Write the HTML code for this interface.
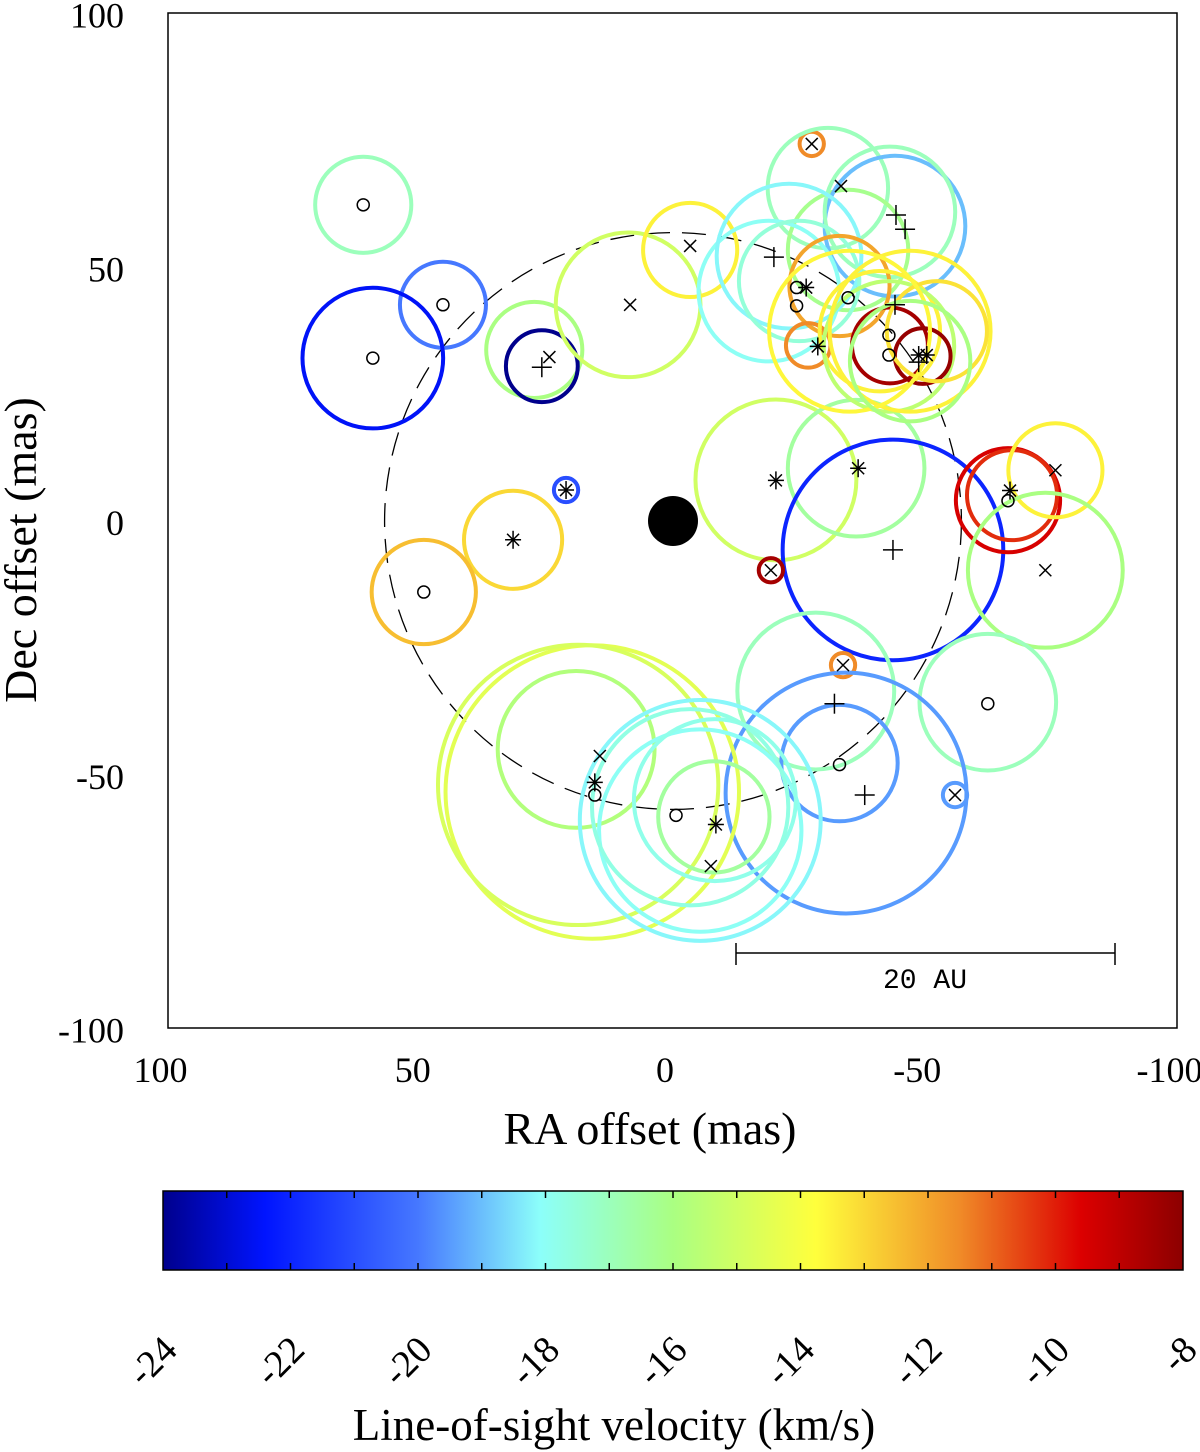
<!DOCTYPE html>
<html><head><meta charset="utf-8"><style>
html,body{margin:0;padding:0;background:#fff;}
svg{display:block;font-family:"Liberation Serif",serif;}
</style></head><body>
<svg id="chart" width="1200" height="1452" viewBox="0 0 1200 1452" xmlns="http://www.w3.org/2000/svg">
<defs>
<linearGradient id="jet" x1="0" x2="1" y1="0" y2="0">
<stop offset="0" stop-color="rgb(0,0,140)"/>
<stop offset="0.1" stop-color="rgb(0,20,255)"/>
<stop offset="0.25" stop-color="rgb(70,120,255)"/>
<stop offset="0.37" stop-color="rgb(140,255,250)"/>
<stop offset="0.5" stop-color="rgb(170,255,130)"/>
<stop offset="0.64" stop-color="rgb(255,255,60)"/>
<stop offset="0.78" stop-color="rgb(240,140,40)"/>
<stop offset="0.9" stop-color="rgb(220,0,0)"/>
<stop offset="1" stop-color="rgb(140,0,0)"/>
</linearGradient>
<clipPath id="pc"><rect x="168" y="13" width="1009" height="1015"/></clipPath>
</defs>
<g id="plot" clip-path="url(#pc)"></g>
<g id="axes"></g>
</svg>
<script>
// circles: ra, dec, radius (mas), velocity
const circRA  = [61.4,45.6,59.5,27.5,26,8.9,-3.4,21.2,31.7,49.4,-20.4,-36.3,-43.6,-19.4,-66.4,-67.2,-75.8,-73.8,-62.4,-28.3,-33.7,-33,-34.3,-55.9,16,18.8,19.2,-5.4,-8.3,-5.4,-8.1,-3.4,-27.5,-30.7,-34.7,-44,-43,-19,-23,-25,-33,-26.8,-41,-42.8,-47,-43,-49.5,-52.3,-35,-47];
const circDec = [62.3,42.6,32.1,33.7,30.5,42.6,53.4,6.1,-3.7,-14,8.1,10.4,-5.7,-9.7,4.1,5.1,10,-9.7,-35.7,-33.5,-28.4,-47.7,-53.6,-54,-53.4,-52,-45,-61,-55,-59,-58.3,-56.4,74.3,65.6,53.4,58.1,60.9,45.3,52.2,47.3,46.3,34.6,37.4,34.4,37.4,34.6,32.5,37.4,37.4,31.5];
const circR   = [9.5,8.5,13.9,9.5,7.1,14.3,9.3,2.4,9.7,10.3,15.9,13.5,21.8,2.4,10.3,8.9,9.3,15.3,13.5,15.5,2.4,11.5,23.8,2.4,29,27.7,15.5,20,16,23.8,11,19.4,2.4,11.9,11.9,13.9,12.9,13.9,14.3,11.9,9.9,4.4,11.9,12.9,15.9,7.5,5.5,9.9,15.9,11.9];
const circV   = [-17,-20,-22.5,-16,-24,-15,-13.5,-21,-13,-12.5,-15,-16.5,-22,-8.5,-9.5,-10.2,-13.5,-16,-17,-17,-11.5,-19.5,-19.5,-19.5,-14.5,-14.8,-15.8,-18,-17.8,-18.2,-16.5,-17.7,-11.5,-17,-16.2,-19,-17,-18,-18.2,-17.5,-12,-11.5,-13.5,-15.5,-13.5,-8.5,-8.2,-13.2,-13.6,-16];
// markers
const oRA=[61.4,45.6,59.5,49.4,-66.4,-62.4,-33,15.5,-0.6,-24.5,-24.5,-34.7,-42.8,-42.8];
const oDec=[62.3,42.6,32.1,-14,4,-36,-48,-54,-58,46,42.4,44,36.6,32.7];
const xRA=[-27.5,-33.7,-55.9,-19.4,-73.8,-75.8,8.5,24.5,-3.4,-33.3,14.5,-7.5];
const xDec=[74.3,-28.4,-54,-9.7,-9.7,10,42.6,32.3,54.2,66,-46.3,-68];
const pRA=[26,-43.6,-32,-38,-44.2,-46,-20,-44,-48.7];
const pDec=[30.3,-5.7,-36,-54,60.3,57.5,52,42.6,31.3];
const sRA=[21.2,31.7,-20.4,-36.7,-66.8,-28.7,-26.4,-48.7,-50.3,15.5,-8.5];
const sDec=[6.1,-3.7,8,10.4,6,34.4,46,32.7,32.7,-51.5,-59.8];
const xTicks=[100,50,0,-50,-100];
const yTicks=[100,50,0,-50,-100];
const cbTicks=[-24,-22,-20,-18,-16,-14,-12,-10,-8];

const NS="http://www.w3.org/2000/svg";
const X=ra=>673-ra*5.045;
const Y=d=>521-d*5.075;
const S=r=>r*5.06;
const CB=v=>163+(v+24)*(1020/16);
const stops=[[0,[0,0,140]],[0.1,[0,20,255]],[0.25,[70,120,255]],[0.37,[140,255,250]],[0.5,[170,255,130]],[0.64,[255,255,60]],[0.78,[240,140,40]],[0.9,[220,0,0]],[1,[140,0,0]]];
function col(v){let t=Math.max(0,Math.min(1,(v+24)/16));for(let i=1;i<stops.length;i++){if(t<=stops[i][0]){const a=stops[i-1],b=stops[i];const f=(t-a[0])/(b[0]-a[0]);const c=a[1].map((x,k)=>Math.round(x+(b[1][k]-x)*f));return `rgb(${c})`;}}return 'rgb(140,0,0)';}
function mk(tag,attrs,parent){const e=document.createElementNS(NS,tag);for(const k in attrs)e.setAttribute(k,attrs[k]);parent.appendChild(e);return e;}
const plot=document.getElementById('plot'),axes=document.getElementById('axes');

const ring=mk('circle',{cx:X(0),cy:Y(0),r:S(57),fill:'none',stroke:'#000','stroke-width':1.3,'stroke-dasharray':'24 12'},plot);


const star=mk('circle',{cx:X(0),cy:Y(0),r:25,fill:'#000'},plot);



circRA.forEach((ra,i)=>{
 const c=mk('circle',{cx:X(ra),cy:Y(circDec[i]),r:S(circR[i]),fill:'none',stroke:col(circV[i]),'stroke-width':4},plot);
 
 
});
const ms={stroke:'#000','stroke-width':1.5,fill:'none'};
oRA.forEach((ra,i)=>{const e=mk('circle',Object.assign({cx:X(ra),cy:Y(oDec[i]),r:6},ms),plot);
 
 });
function lines(cx,cy,segs,name){const g=mk('g',ms,plot);
 
 
 segs.forEach(s=>mk('line',{x1:cx+s[0],y1:cy+s[1],x2:cx+s[2],y2:cy+s[3]},g));}
xRA.forEach((ra,i)=>lines(X(ra),Y(xDec[i]),[[-6,-6,6,6],[-6,6,6,-6]],'marker-x'));
pRA.forEach((ra,i)=>lines(X(ra),Y(pDec[i]),[[-10,0,10,0],[0,-10,0,10]],'marker-plus'));
sRA.forEach((ra,i)=>lines(X(ra),Y(sDec[i]),[[-8,0,8,0],[0,-9,0,9],[-6,-6,6,6],[-6,6,6,-6]],'marker-asterisk'));

const sb=mk('g',{stroke:'#000','stroke-width':1.5},plot);


mk('line',{x1:736,y1:953,x2:1115,y2:953},sb);mk('line',{x1:736,y1:943,x2:736,y2:965},sb);mk('line',{x1:1115,y1:943,x2:1115,y2:965},sb);
const sbt=mk('text',{x:925,y:988,'text-anchor':'middle','font-family':'Liberation Mono, monospace','font-size':28},plot);
sbt.textContent='20 AU';



const fr=mk('rect',{x:168,y:13,width:1009,height:1015,fill:'none',stroke:'#000','stroke-width':1.5},axes);


xTicks.forEach(t=>{const tx=mk('text',{x:X(t)-8,y:1082,'text-anchor':'middle','font-size':36},axes);tx.textContent=t;
 
 });
yTicks.forEach(t=>{const tx=mk('text',{x:124,y:Y(t)+14,'text-anchor':'end','font-size':36},axes);tx.textContent=t;
 
 });
const xt=mk('text',{x:650,y:1144,'text-anchor':'middle','font-size':46},axes);xt.textContent='RA offset (mas)';


const yt=mk('text',{x:0,y:0,'text-anchor':'middle','font-size':46,transform:'translate(36,550) rotate(-90)'},axes);yt.textContent='Dec offset (mas)';



const cb=mk('rect',{x:163,y:1191,width:1020,height:79,fill:'url(#jet)',stroke:'#000','stroke-width':1.5},axes);


for(let v=-23;v<=-9;v++){mk('line',{x1:CB(v),y1:1191,x2:CB(v),y2:1198,stroke:'#000','stroke-width':1.5},axes);mk('line',{x1:CB(v),y1:1263,x2:CB(v),y2:1270,stroke:'#000','stroke-width':1.5},axes);}
cbTicks.forEach(t=>{const tx=mk('text',{x:0,y:0,'text-anchor':'end','font-size':38,transform:`translate(${CB(t)+16},${1352}) rotate(-45)`},axes);tx.textContent=t;
 
 });
const ct=mk('text',{x:614,y:1440,'text-anchor':'middle','font-size':45},axes);ct.textContent='Line-of-sight velocity (km/s)';


</script>
</body></html>
